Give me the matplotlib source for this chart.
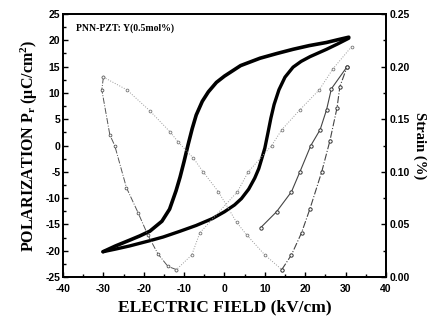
import matplotlib.pyplot as plt
from matplotlib.ticker import MultipleLocator

plt.rcParams['mathtext.fontset'] = 'custom'
plt.rcParams['mathtext.rm'] = 'Liberation Serif:bold'
plt.rcParams['mathtext.bf'] = 'Liberation Serif:bold'
plt.rcParams['mathtext.it'] = 'Liberation Serif:bold'

# P-E hysteresis loop (kV/cm, uC/cm^2)
e_upper = [30.8, 28.0, 25.3, 21.0, 17.0, 13.0, 8.8, 4.0, 0.0, -2.0, -4.0, -5.5, -7.0, -8.0,
           -9.0, -10.0, -11.0, -12.0, -13.6, -15.5, -18.5, -21.0, -23.5, -27.0, -30.1]
p_upper = [20.6, 20.1, 19.6, 19.0, 18.3, 17.5, 16.6, 15.2, 13.2, 12.0, 10.2, 8.4, 5.8, 3.2,
           0.2, -3.0, -6.0, -8.6, -12.1, -14.4, -16.3, -17.2, -18.0, -19.1, -20.2]
e_lower = [-30.1, -27.0, -23.5, -18.5, -15.2, -11.0, -7.0, -3.0, 0.0, 2.5, 4.2, 6.0, 7.5, 8.5,
           9.2, 10.0, 10.8, 11.5, 12.3, 13.5, 15.0, 17.0, 19.0, 21.2, 25.3, 28.0, 30.8]
p_lower = [-20.2, -19.7, -19.1, -18.1, -17.4, -16.3, -15.2, -13.9, -12.6, -11.3, -10.1, -8.3,
           -6.2, -4.4, -2.6, -0.5, 2.5, 5.2, 7.8, 10.6, 13.0, 14.9, 16.0, 16.9, 18.3, 19.3, 20.4]

# strain butterfly (%), split into the pieces seen in the scan
e_left_steep = [-11.9, -14.0, -16.5, -19.0, -21.4, -24.3, -27.2, -28.4, -30.4, -30.0]
s_left_steep = [0.007, 0.010, 0.022, 0.040, 0.061, 0.085, 0.125, 0.135, 0.178, 0.190]
e_diag_tl = [-30.0, -24.2, -18.5, -13.5, -11.4, -7.7, -5.3, -1.5, 3.0, 5.5, 10.0, 14.2]
s_diag_tl = [0.190, 0.178, 0.158, 0.138, 0.128, 0.113, 0.100, 0.081, 0.052, 0.040, 0.021, 0.007]
e_diag_tr = [31.5, 26.9, 23.5, 18.7, 14.2, 11.7, 5.9, 3.2, -6.1, -8.1, -11.9]
s_diag_tr = [0.219, 0.198, 0.178, 0.159, 0.140, 0.125, 0.100, 0.081, 0.042, 0.021, 0.007]
e_right_steep = [14.2, 16.6, 19.1, 21.2, 24.1, 26.1, 27.9, 28.6, 30.4]
s_right_steep = [0.007, 0.021, 0.042, 0.065, 0.100, 0.129, 0.161, 0.181, 0.200]
e_inner = [30.4, 26.5, 25.3, 23.7, 21.4, 18.7, 16.6, 12.9, 9.0]
s_inner = [0.200, 0.179, 0.159, 0.140, 0.125, 0.100, 0.081, 0.062, 0.047]

serif = 'Liberation Serif'
tick_font = {'family': 'Liberation Sans', 'weight': 'bold', 'size': 7.5}

fig = plt.figure(figsize=(4.41, 3.27), dpi=100)
ax = fig.add_axes([0.143, 0.153, 0.732, 0.804])
ax2 = ax.twinx()

ax.plot(e_upper, p_upper, color='black', lw=2.6, solid_joinstyle='round', solid_capstyle='round')
ax.plot(e_lower, p_lower, color='black', lw=2.4, solid_joinstyle='round', solid_capstyle='round')

ax2.plot(e_left_steep, s_left_steep, color='#555555', lw=0.7, ls='-.',
         marker='o', ms=2.0, mfc='white', mec='#555555', mew=0.6)
ax2.plot(e_diag_tl, s_diag_tl, color='#999999', lw=0.7, ls=':',
         marker='o', ms=2.0, mfc='white', mec='#777777', mew=0.6)
ax2.plot(e_diag_tr, s_diag_tr, color='#999999', lw=0.7, ls=':',
         marker='o', ms=2.0, mfc='white', mec='#777777', mew=0.6)
ax2.plot(e_right_steep, s_right_steep, color='#444444', lw=0.8, ls='-.',
         marker='o', ms=2.4, mfc='white', mec='#333333', mew=0.7)
ax2.plot(e_inner, s_inner, color='#444444', lw=0.8, ls='-',
         marker='o', ms=2.4, mfc='white', mec='#333333', mew=0.7)

ax.set_xlim(-40, 40)
ax.set_ylim(-25, 25)
ax2.set_ylim(0, 0.25)
ax.xaxis.set_minor_locator(MultipleLocator(5))
ax.yaxis.set_minor_locator(MultipleLocator(2.5))
ax2.yaxis.set_minor_locator(MultipleLocator(0.025))

for a in (ax, ax2):
    a.tick_params(which='both', direction='in', width=1.0)
    a.tick_params(which='major', length=3.5)
    a.tick_params(which='minor', length=2)
    for sp in a.spines.values():
        sp.set_linewidth(1.3)
ax.tick_params(axis='x', pad=5)
ax.tick_params(axis='y', pad=2)
ax2.tick_params(axis='y', pad=3)

ax.set_xticks([-40, -30, -20, -10, 0, 10, 20, 30, 40])
ax.set_xticklabels(['-40', '-30', '-20', '-10', '0', '10', '20', '30', '40'], fontdict=tick_font)
ax.set_yticks(list(range(-25, 30, 5)))
ax.set_yticklabels([str(v) for v in range(-25, 30, 5)], fontdict=tick_font)
ax2.set_yticks([0, 0.05, 0.10, 0.15, 0.20, 0.25])
ax2.set_yticklabels(['0.00', '0.05', '0.10', '0.15', '0.20', '0.25'], fontdict=tick_font)

ax.set_xlabel('ELECTRIC FIELD (kV/cm)', family=serif, weight='bold', fontsize=12.5, labelpad=4)
ax.set_ylabel(r'POLARIZATION P$_{\mathrm{r}}$ (μC/cm$^{\mathrm{2}}$)',
              family=serif, weight='bold', fontsize=11.5, labelpad=4)
ax2.set_ylabel('Strain (%)', family=serif, weight='bold', fontsize=10.5,
               rotation=270, labelpad=12)

ax.text(0.04, 0.965, 'PNN-PZT: Y(0.5mol%)', transform=ax.transAxes,
        family=serif, weight='bold', fontsize=7, va='top', ha='left')

fig.savefig('out.png', dpi=100)
